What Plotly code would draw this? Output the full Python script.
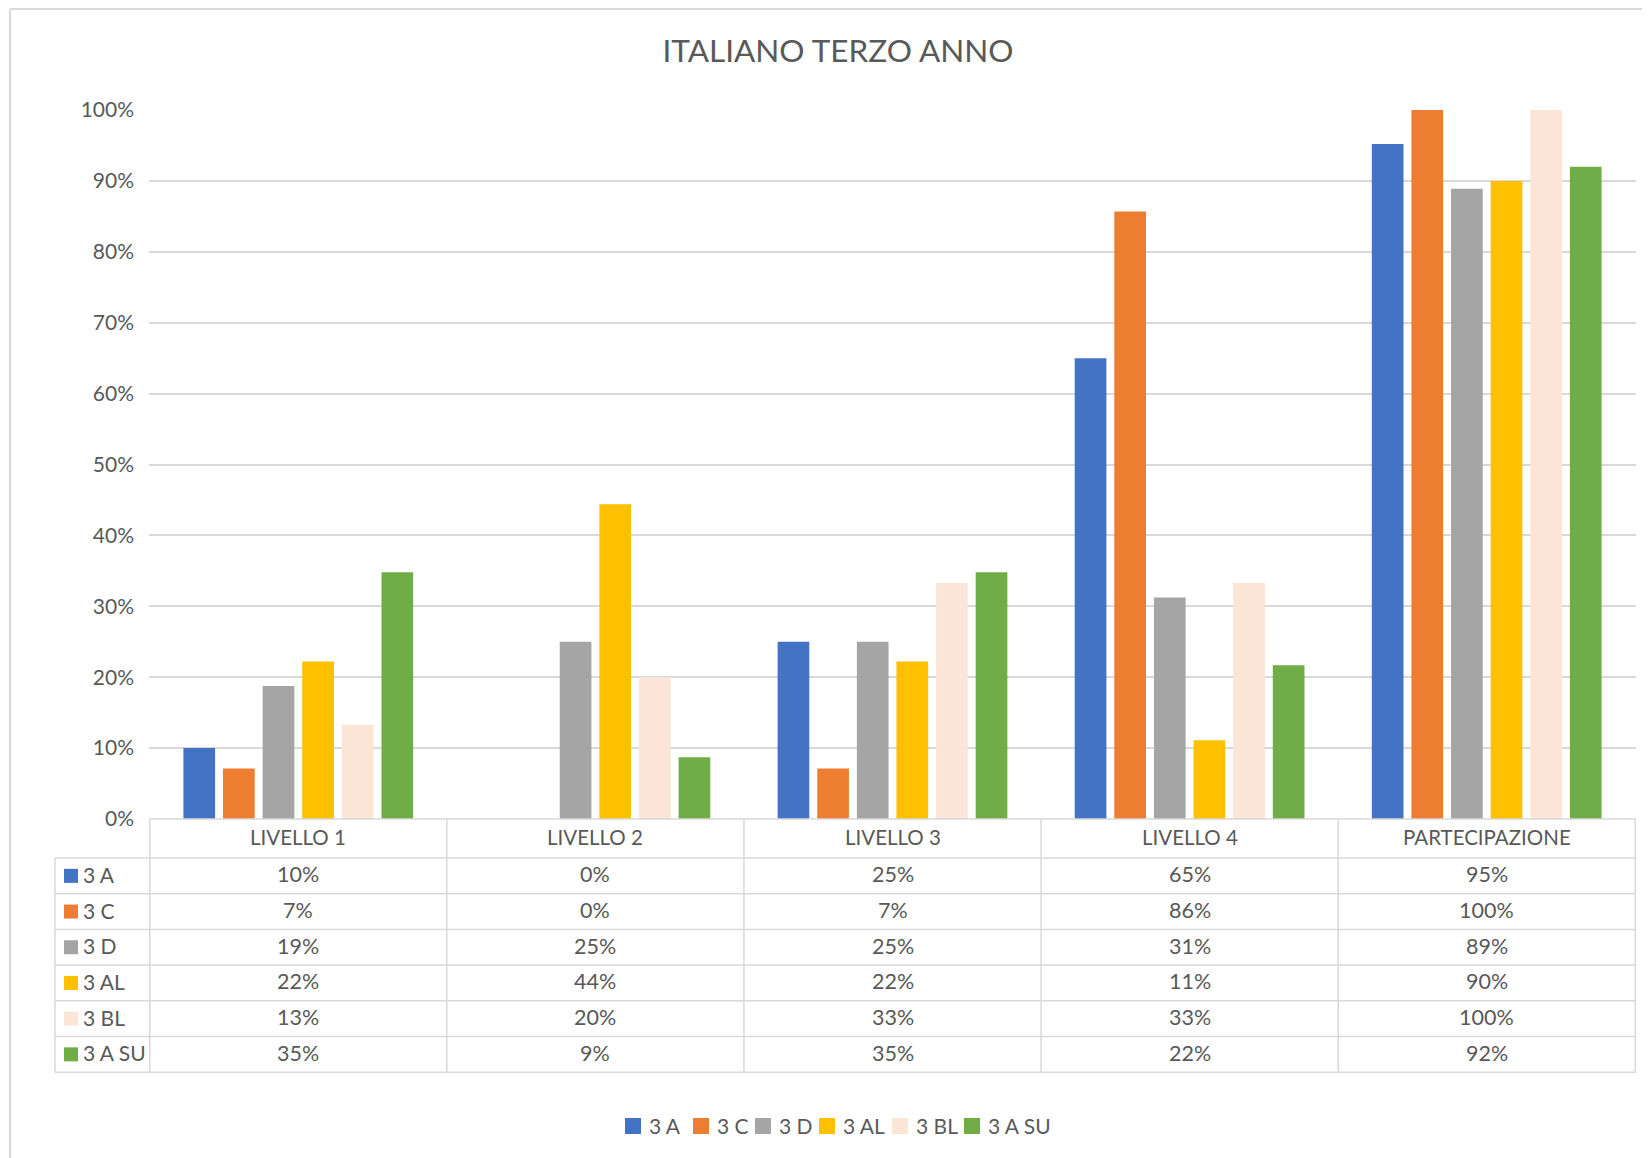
import plotly.graph_objects as go

# ---------------- data ----------------
categories = ["LIVELLO 1", "LIVELLO 2", "LIVELLO 3", "LIVELLO 4", "PARTECIPAZIONE"]
classes = ["3 A", "3 C", "3 D", "3 AL", "3 BL", "3 A SU"]

values_3A = [0.10, 0.00, 0.25, 0.65, 0.952]
values_3C = [0.0714, 0.00, 0.0714, 0.857, 1.00]
values_3D = [0.1875, 0.25, 0.25, 0.3125, 0.889]
values_3AL = [0.222, 0.444, 0.222, 0.111, 0.90]
values_3BL = [0.133, 0.20, 0.333, 0.333, 1.00]
values_3ASU = [0.348, 0.087, 0.348, 0.217, 0.92]

y_ticks = [0, 0.1, 0.2, 0.3, 0.4, 0.5, 0.6, 0.7, 0.8, 0.9, 1.0]
title_text = "ITALIANO TERZO ANNO"

series = [values_3A, values_3C, values_3D, values_3AL, values_3BL, values_3ASU]
colors = ["#4472C4", "#ED7D31", "#A5A5A5", "#FFC000", "#FBE5D6", "#70AD47"]

# ---------------- geometry helpers (page pixels -> paper) ----------------
PAGE_W, PAGE_H = 1650, 1158
OFF = 8                      # default body margin of the html page
W, H = PAGE_W - OFF, PAGE_H - OFF
L, R, T, B = 149, 1636, 110, 819   # plot area in page pixels
TEXT = "#595959"
LINE = "#D9D9D9"
FONT = "Lato"
TXT_DY = -1.5                # small vertical nudge for table text


def xp(px):
    return (px - L) / (R - L)


def yp(py):
    return (B - py) / (B - T)


fig = go.Figure()
for name, vals, col in zip(classes, series, colors):
    fig.add_trace(go.Bar(
        x=categories, y=vals, name=name,
        marker=dict(color=col, line=dict(width=0)),
        showlegend=False, hovertemplate="%{x}: %{y:.0%}<extra>" + name + "</extra>",
    ))

shapes = []
annotations = []

# outer chart border (left and top edges visible)
shapes.append(dict(type="line", xref="paper", yref="paper",
                   x0=xp(10), x1=xp(10), y0=yp(9), y1=yp(1200),
                   line=dict(color=LINE, width=2)))
shapes.append(dict(type="line", xref="paper", yref="paper",
                   x0=xp(10), x1=xp(1700), y0=yp(9), y1=yp(9),
                   line=dict(color=LINE, width=2)))

# ---------------- data table ----------------
header_top, header_bot = 819, 858
row_h = 35.7
n_rows = len(classes)
table_bot = header_bot + n_rows * row_h
left_col_x = 55

shapes.append(dict(type="line", xref="paper", yref="paper", x0=0, x1=1,
                   y0=yp(header_top), y1=yp(header_top), line=dict(color=LINE, width=1.5)))
for i in range(n_rows + 1):
    yy = header_bot + i * row_h
    shapes.append(dict(type="line", xref="paper", yref="paper", x0=xp(left_col_x), x1=1,
                       y0=yp(yy), y1=yp(yy), line=dict(color=LINE, width=1.5)))
for k in range(len(categories) + 1):
    shapes.append(dict(type="line", xref="x", yref="paper", x0=k - 0.5, x1=k - 0.5,
                       y0=yp(header_top), y1=yp(table_bot), line=dict(color=LINE, width=1.5)))
shapes.append(dict(type="line", xref="paper", yref="paper", x0=xp(left_col_x), x1=xp(left_col_x),
                   y0=yp(header_bot), y1=yp(table_bot), line=dict(color=LINE, width=1.5)))

for c in categories:
    annotations.append(dict(x=c, xref="x", y=yp((header_top + header_bot) / 2 + TXT_DY - 0.5),
                            yref="paper", text=c, showarrow=False,
                            xanchor="center", yanchor="middle",
                            font=dict(family=FONT, size=20.5, color=TEXT)))

for i, (name, vals, col) in enumerate(zip(classes, series, colors)):
    cy = header_bot + (i + 0.5) * row_h
    shapes.append(dict(type="rect", xref="paper", yref="paper",
                       x0=xp(64), x1=xp(78), y0=yp(cy - 7), y1=yp(cy + 7),
                       fillcolor=col, line=dict(width=0)))
    annotations.append(dict(x=xp(81), xref="paper", y=yp(cy + TXT_DY), yref="paper",
                            text=name, showarrow=False, xanchor="left", yanchor="middle",
                            font=dict(family=FONT, size=21, color=TEXT)))
    for c, v in zip(categories, vals):
        annotations.append(dict(x=c, xref="x", y=yp(cy + TXT_DY), yref="paper",
                                text="{:.0%}".format(v), showarrow=False,
                                xanchor="center", yanchor="middle",
                                font=dict(family=FONT, size=21.5, color=TEXT)))

# ---------------- legend (bottom) ----------------
legend_sq_x = [625, 693, 755, 819, 892, 964]
legend_cy = 1126
for name, col, sx in zip(classes, colors, legend_sq_x):
    shapes.append(dict(type="rect", xref="paper", yref="paper",
                       x0=xp(sx), x1=xp(sx + 16), y0=yp(legend_cy - 8), y1=yp(legend_cy + 8),
                       fillcolor=col, line=dict(width=0)))
    annotations.append(dict(x=xp(sx + 22), xref="paper", y=yp(legend_cy - 1), yref="paper",
                            text=name, showarrow=False, xanchor="left", yanchor="middle",
                            font=dict(family=FONT, size=21, color=TEXT)))

fig.update_layout(
    width=W, height=H,
    margin=dict(l=L - OFF, r=PAGE_W - R, t=T - OFF, b=PAGE_H - B, pad=0),
    barmode="group", bargap=0.2, bargroupgap=0.2,
    plot_bgcolor="white", paper_bgcolor="white",
    font=dict(family=FONT, size=21, color=TEXT),
    title=dict(text=title_text, x=xp(838), xref="paper", xanchor="center",
               y=1 - (51 - OFF) / H, yref="container", yanchor="middle",
               font=dict(family=FONT, size=31.5, color=TEXT)),
    shapes=shapes, annotations=annotations,
    showlegend=False,
)
fig.update_yaxes(range=[0, 1], tickvals=y_ticks, tickformat=".0%",
                 gridcolor=LINE, gridwidth=1.5, zeroline=False, showline=False,
                 ticks="", ticklabelstandoff=14,
                 tickfont=dict(family=FONT, size=21, color=TEXT))
fig.update_xaxes(showticklabels=False, showline=False, ticks="", showgrid=False)

fig.write_html("out.html")
